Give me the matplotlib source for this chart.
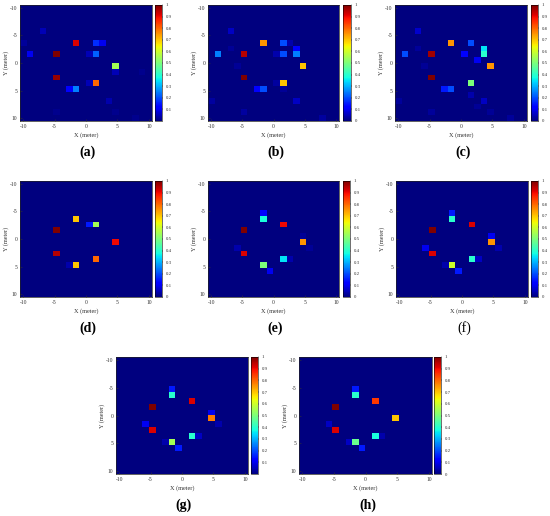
import numpy as np
import matplotlib
matplotlib.use("Agg")
import matplotlib.pyplot as plt

W, H = 550, 516
N = 20

# Per panel: grid cells (row, col) and intensity values
a_rows = [6, 6, 6, 8, 8, 8, 8, 10, 11, 12, 13, 13, 14, 14, 4, 6, 16, 11, 18, 19, 18]
a_cols = [8, 11, 12, 5, 1, 10, 11, 14, 14, 5, 11, 10, 8, 7, 3, 0, 13, 18, 5, 17, 14]
a_vals = [0.92, 0.17, 0.1, 1.0, 0.1, 0.05, 0.22, 0.55, 0.05, 0.98, 0.8, 0.05, 0.25, 0.12, 0.05, 0.025, 0.04, 0.015, 0.015, 0.015, 0.015]

b_rows = [6, 6, 6, 7, 4, 8, 8, 8, 8, 8, 10, 12, 13, 14, 14, 16, 16, 18, 19, 7, 10, 13, 14]
b_cols = [8, 11, 12, 13, 3, 1, 5, 10, 11, 13, 14, 5, 11, 8, 7, 13, 0, 5, 17, 3, 4, 10, 11]
b_vals = [0.75, 0.2, 0.04, 0.12, 0.06, 0.25, 0.95, 0.04, 0.2, 0.25, 0.7, 1.0, 0.7, 0.2, 0.12, 0.06, 0.03, 0.03, 0.03, 0.02, 0.02, 0.03, 0.02]

c_rows = [6, 6, 4, 7, 8, 8, 8, 8, 9, 10, 12, 13, 14, 14, 15, 16, 16, 18, 19, 7, 10, 18, 17]
c_cols = [8, 11, 3, 13, 13, 1, 5, 10, 12, 14, 5, 11, 8, 7, 11, 13, 0, 5, 17, 3, 4, 14, 12]
c_vals = [0.75, 0.2, 0.07, 0.35, 0.4, 0.2, 0.97, 0.12, 0.1, 0.75, 1.0, 0.5, 0.2, 0.15, 0.04, 0.06, 0.025, 0.025, 0.025, 0.025, 0.02, 0.02, 0.02]

d_rows = [6, 7, 7, 8, 10, 12, 13, 14, 14]
d_cols = [8, 11, 10, 5, 14, 5, 11, 8, 7]
d_vals = [0.7, 0.55, 0.15, 1.0, 0.9, 0.95, 0.8, 0.7, 0.04]

e_rows = [5, 6, 7, 8, 9, 10, 11, 12, 13, 13, 14, 15, 11]
e_cols = [8, 8, 11, 5, 14, 14, 4, 5, 11, 12, 8, 9, 15]
e_vals = [0.12, 0.38, 0.9, 1.0, 0.02, 0.75, 0.04, 0.92, 0.35, 0.04, 0.5, 0.1, 0.02]

f_rows = [5, 6, 7, 8, 9, 10, 11, 11, 12, 13, 13, 14, 14, 15]
f_cols = [8, 8, 11, 5, 14, 14, 15, 4, 5, 11, 12, 8, 7, 9]
f_vals = [0.15, 0.4, 0.92, 1.0, 0.1, 0.75, 0.04, 0.1, 0.92, 0.4, 0.06, 0.6, 0.04, 0.15]

g_rows = [5, 6, 7, 8, 9, 10, 11, 11, 12, 13, 13, 14, 14, 15]
g_cols = [8, 8, 11, 5, 14, 14, 15, 4, 5, 11, 12, 8, 7, 9]
g_vals = [0.15, 0.4, 0.92, 1.0, 0.1, 0.78, 0.04, 0.1, 0.92, 0.4, 0.06, 0.55, 0.04, 0.15]

h_rows = [5, 6, 7, 8, 9, 10, 11, 12, 13, 13, 14, 14, 15]
h_cols = [8, 8, 11, 5, 14, 14, 4, 5, 11, 12, 8, 7, 9]
h_vals = [0.15, 0.4, 0.85, 1.0, 0.02, 0.7, 0.06, 0.92, 0.38, 0.04, 0.48, 0.06, 0.15]

panel_labels = ["(a)", "(b)", "(c)", "(d)", "(e)", "(f)", "(g)", "(h)"]
axis_ticks = [-10, -5, 0, 5, 10]
cbar_ticks = [0, 0.1, 0.2, 0.3, 0.4, 0.5, 0.6, 0.7, 0.8, 0.9, 1.0]
cbar_ticklabels = ["0", "0.1", "0.2", "0.3", "0.4", "0.5", "0.6", "0.7", "0.8", "0.9", "1"]

data = [(a_rows, a_cols, a_vals), (b_rows, b_cols, b_vals), (c_rows, c_cols, c_vals),
        (d_rows, d_cols, d_vals), (e_rows, e_cols, e_vals), (f_rows, f_cols, f_vals),
        (g_rows, g_cols, g_vals), (h_rows, h_cols, h_vals)]

# layout in pixels: (ax_left, ax_right, top, bottom, cb_left, cb_right)
layout = [
    (20, 152, 5, 121, 155, 162),
    (208, 339, 5, 121, 343, 351),
    (395, 527, 5, 121, 531, 538),
    (20, 152, 181, 297, 155, 162),
    (208, 339, 181, 297, 343, 350),
    (396, 528, 181, 297, 531, 538),
    (116, 248, 357, 474, 251, 258),
    (299, 432, 357, 474, 434, 441),
]
show_zero = [False, True, True, True, True, True, False, True]
label_bold = [True, True, True, True, True, False, True, True]

plt.rcParams['font.family'] = ['Liberation Serif', 'DejaVu Serif']

fig = plt.figure(figsize=(W / 100, H / 100), dpi=100)


def rect(l, r, t, b):
    return [l / W, 1 - b / H, (r - l) / W, (b - t) / H]


for i, ((rows, cols, vals), (l, r, t, b, cl, cr)) in enumerate(zip(data, layout)):
    M = np.zeros((N, N))
    for rr, cc, vv in zip(rows, cols, vals):
        M[rr, cc] = vv
    ax = fig.add_axes(rect(l, r, t, b))
    im = ax.imshow(M, cmap='jet', vmin=0, vmax=1, extent=(-10.5, 10.5, 10.5, -10.5),
                   aspect='auto', interpolation='nearest')
    ax.set_xticks(axis_ticks)
    ax.set_yticks(axis_ticks)
    ax.set_xticklabels([str(v) for v in axis_ticks])
    ax.set_yticklabels([str(v) for v in axis_ticks])
    ax.tick_params(labelsize=4, direction='in', length=1.5, width=0.4, pad=2, colors='#333333')
    for s in ax.spines.values():
        s.set_linewidth(0.5)
        s.set_color('#222222')
    cax = fig.add_axes(rect(cl, cr, t, b))
    cb = fig.colorbar(im, cax=cax)
    if show_zero[i]:
        cb.set_ticks(cbar_ticks)
        cb.set_ticklabels(cbar_ticklabels)
    else:
        cb.set_ticks(cbar_ticks[1:])
        cb.set_ticklabels(cbar_ticklabels[1:])
    cb.ax.tick_params(labelsize=3.5, length=1, width=0.3, pad=1.5, colors='#333333')
    cb.outline.set_linewidth(0.4)
    cx = (l + r) / 2
    fig.text(cx / W, 1 - (b + 14) / H, "X (meter)", ha='center', va='center', fontsize=4.5, color='#333333')
    fig.text((l - 14) / W, 1 - ((t + b) / 2) / H, "Y (meter)", ha='center', va='center',
             rotation=90, fontsize=4.5, color='#333333')
    fig.text((cx + 2) / W, 1 - (b + 31) / H, panel_labels[i], ha='center', va='center',
             fontsize=10, fontweight='bold' if label_bold[i] else 'normal', color='black')

fig.savefig("out.png", dpi=100)
